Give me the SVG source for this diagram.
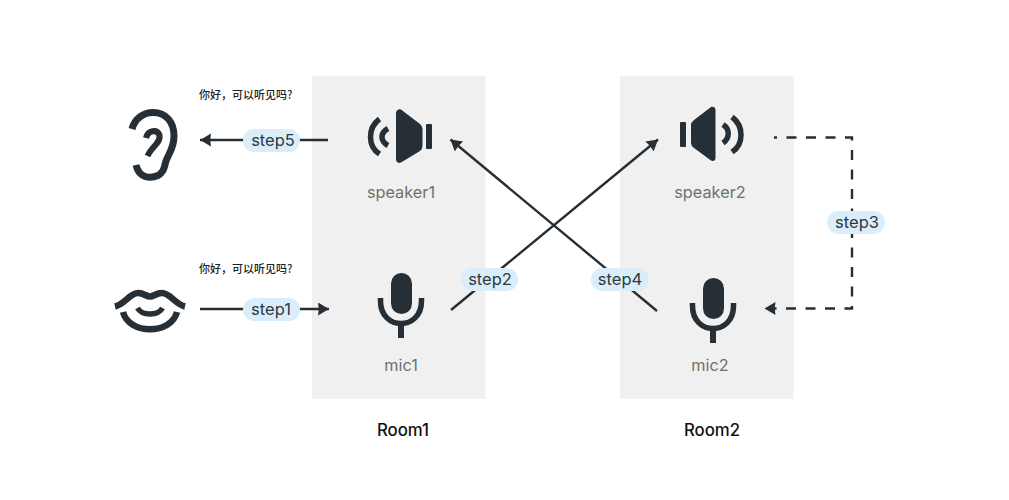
<svg xmlns="http://www.w3.org/2000/svg" width="1009" height="500" viewBox="0 0 1009 500">
<style>
.room{fill:#f0f0f0}
.ic{fill:none;stroke:#262e36;stroke-linecap:butt;stroke-linejoin:round}
.fl{fill:#262e36}
.pill{fill:#daedfb}
.cn{fill:none;stroke:#262e36;stroke-width:2.400}
.lb{font-family:Inter,"Liberation Sans",sans-serif;font-size:16.300px;fill:#6f6f6f;text-anchor:middle}
.st{font-family:Inter,"Liberation Sans",sans-serif;font-size:16.500px;fill:#303840;text-anchor:middle}
.rm{font-family:Inter,"Liberation Sans",sans-serif;font-size:16.800px;font-weight:500;fill:#111;text-anchor:middle}
.zh{font-family:"Noto Sans CJK SC",sans-serif;font-size:11px;fill:#222;font-weight:500}
</style>
<defs>
<marker id="ah" markerUnits="userSpaceOnUse" markerWidth="12" markerHeight="14" refX="11" refY="6.500" orient="auto"><path d="M0 0L11 6.500L0 13L0.800 6.500Z" fill="#262e36"/></marker>
</defs>
<rect width="1009" height="500" fill="#fff"/>
<g id="room1"><rect class="room" x="312" y="76" width="173.500" height="323"/><text class="rm" x="403" y="436">Room1</text></g>
<g id="room2"><rect class="room" x="620" y="76" width="173.500" height="323"/><text class="rm" x="712" y="436">Room2</text></g>
<g id="connectors">
<path class="cn" d="M200 309H329" marker-end="url(#ah)"/>
<path class="cn" d="M328 140H200" marker-end="url(#ah)"/>
<path class="cn" d="M451 310L658 139.500" marker-end="url(#ah)"/>
<path class="cn" d="M657 311L450.500 139.500" marker-end="url(#ah)"/>
<path class="cn" stroke-dasharray="10 9.500" stroke-dashoffset="7" d="M774 137.500H852V308.500H764.500" marker-end="url(#ah)"/>
</g>
<g id="ear"><path class="ic" stroke-width="7" d="M132 129C135 118 144 112.500 153 112.500C166 112.500 174 122 174 136C174 148 169 153 166 161C164 168 164 172 158 175.500C150 179 139 178 136 165"/><path class="ic" stroke-width="6" d="M146 138C148 130 157 129 159.500 135C161 143 152 146 147.500 156"/></g>
<g id="lips"><path class="ic" stroke-width="6.500" d="M115 306.500C125 304 130 293 138 293C144 293 146 296.500 150 296.500C154 296.500 156 293 162 293C170 293 175 304 185 306.500"/><path class="ic" stroke-width="5.500" d="M137.500 308C142 316 158 316 162.500 308"/><path class="ic" stroke-width="6.500" d="M123 312C129 335 171 335 177 312"/></g>
<g id="speaker1"><path class="fl" d="M396 113Q397 108.500 401 109.500L420 124Q422.500 126 422.500 129V146Q422.500 149 420 151L401 162.500Q397 164 396 160Z"/><rect class="fl" x="426" y="124" width="6" height="25" rx="1"/><path class="ic" stroke-width="5.500" d="M379.500 119C367.500 128 367.500 146 379.500 154M388 128.500C380 133 380 141 388 145.500"/><text class="lb" x="401" y="198">speaker1</text></g>
<g id="speaker2"><path class="fl" d="M715.500 110Q715 106 711 107L694 120Q691 122.500 691 125V143Q691 146 694 148L711 160.500Q715 162 715.500 158Z"/><rect class="fl" x="680" y="122" width="6" height="25" rx="1"/><path class="ic" stroke-width="5.500" d="M732 117C744 126 744 144 732 152M723 124.500C730 129 730 138 723 143"/><text class="lb" x="710" y="198">speaker2</text></g>
<g id="mic1"><rect class="fl" x="391" y="273" width="21" height="41" rx="10.500"/><path class="ic" stroke-width="5.500" d="M380.500 298V301C380.500 331 421.500 331 421.500 301V298"/><path class="ic" stroke-width="6" d="M401 322V338"/><text class="lb" x="401" y="371">mic1</text></g>
<g id="mic2"><rect class="fl" x="703" y="278" width="21" height="41" rx="10.500"/><path class="ic" stroke-width="5.500" d="M692.500 303V306C692.500 336 733.500 336 733.500 306V303"/><path class="ic" stroke-width="6" d="M713 327V343"/><text class="lb" x="710" y="371">mic2</text></g>
<g id="step1"><rect class="pill" x="243" y="298" width="57" height="23" rx="11.500"/><text class="st" x="271" y="315">step1</text></g>
<g id="step5"><rect class="pill" x="243" y="129" width="57" height="23" rx="11.500"/><text class="st" x="273" y="146">step5</text></g>
<g id="step2"><rect class="pill" x="461" y="268" width="57" height="23" rx="11.500"/><text class="st" x="490" y="285">step2</text></g>
<g id="step4"><rect class="pill" x="591" y="268" width="58" height="23" rx="11.500"/><text class="st" x="620" y="285">step4</text></g>
<g id="step3"><rect class="pill" x="827" y="211" width="58" height="23" rx="11.500"/><text class="st" x="857" y="228">step3</text></g>
<g id="say1"><text class="zh" x="199" y="99">你好，可以听见吗?</text></g>
<g id="say2"><text class="zh" x="199" y="273">你好，可以听见吗?</text></g>
</svg>
